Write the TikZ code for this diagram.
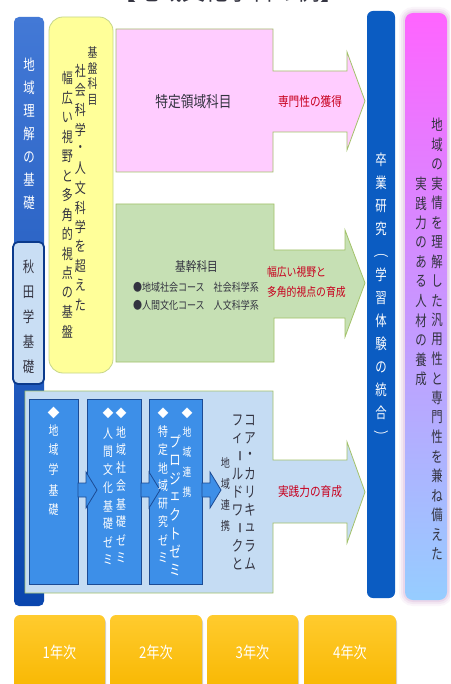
\documentclass[tikz,border=0pt]{standalone}
\usepackage{fontspec}
\usepackage{graphicx}
\setmainfont{Noto Sans CJK JP}
\newfontfamily\cjkc[FakeStretch=0.82]{Noto Sans CJK JP}
\newfontfamily\cjkn[FakeStretch=0.76]{Noto Sans CJK JP}
\makeatletter
\newcommand\VT[2]{\vbox{\offinterlineskip\@tfor\vt@c:=#2\do{\vbox to #1{\vss\hbox to #1{\hss\vt@c\hss}\vss}}}}
\makeatother
\newcommand\VBar{\rotatebox{-90}{ー}}
\newcommand\VLp{\rotatebox{-90}{（}}
\newcommand\VRp{\rotatebox{-90}{）}}
\definecolor{barA}{HTML}{4379D6}
\definecolor{barB}{HTML}{0A46AE}
\definecolor{akita}{HTML}{C9DEF4}
\definecolor{akitaD}{HTML}{0B3A8C}
\definecolor{yel}{HTML}{FFFF99}
\definecolor{yelD}{HTML}{C6D68A}
\definecolor{pinkF}{HTML}{FFCCFF}
\definecolor{greenF}{HTML}{C6E0B4}
\definecolor{ltblue}{HTML}{C5DCF3}
\definecolor{edgeG}{HTML}{A3C26A}
\definecolor{innerB}{HTML}{3D8FE8}
\definecolor{innerD}{HTML}{1C4B94}
\definecolor{rbar}{HTML}{0B5CC2}
\definecolor{redT}{HTML}{C8001E}
\definecolor{yrA}{HTML}{FFCB2E}
\definecolor{yrB}{HTML}{F8B700}
\definecolor{txtD}{HTML}{333340}
\begin{document}
\begin{tikzpicture}[x=1pt,y=-1pt,
  every node/.style={inner sep=0pt, outer sep=0pt},
  region/.style={draw=edgeG, line width=0.8pt},
  innerbox/.style={fill=innerB, draw=innerD, line width=0.9pt},
  smallarrow/.style={fill=innerB, draw=innerD, line width=0.8pt},
  vwhite/.style={text=white},
  redlabel/.style={text=redT, font=\cjkc\fontsize{13}{15}\selectfont},
  yearbox/.style={top color=yrA, bottom color=yrB, draw=none, rounded corners=6pt},
  yeartext/.style={text=white, font=\cjkc\fontsize{16}{18}\selectfont}]
\useasboundingbox (0,0) rectangle (450,684);
\clip (0,0) rectangle (450,684);
\fill[white] (0,0) rectangle (450,684);

% title (cut off at top)
\node[anchor=base, text=txtD, font=\fontsize{23}{23}\selectfont] (title) at (228,1) {【地域文化学科の例】};

% left bar
\shade[top color=barA, bottom color=barB, rounded corners=5pt] (14,17) rectangle (44,606);
\node[vwhite, font=\cjkn\fontsize{15}{15}\selectfont] (chiiki) at (29,134) {\VT{23pt}{地域理解の基礎}};
\draw[fill=akita, draw=akitaD, line width=1.8pt, rounded corners=5pt] (13,242) rectangle (44,384);
\node[text=txtD, font=\cjkn\fontsize{15}{15}\selectfont] (akitatxt) at (28.5,317) {\VT{25pt}{秋田学基礎}};

% yellow box
\draw[fill=yel, draw=yelD, line width=0.8pt, rounded corners=14pt] (49,17) rectangle (113,373);
\node[text=txtD, font=\cjkn\fontsize{13}{13}\selectfont] (kiban) at (92.5,76) {\VT{16pt}{基盤科目}};
\node[text=txtD, font=\cjkn\fontsize{14.5}{14.5}\selectfont] (kibanA) at (80.5,188) {\VT{19.5pt}{社会科学・人文科学を超えた}};
\node[text=txtD, font=\cjkn\fontsize{14.5}{14.5}\selectfont] (kibanB) at (67.5,205) {\VT{19.5pt}{幅広い視野と多角的視点の基盤}};

% pink arrow region
\draw[region, fill=pinkF] (116,29) -- (273,29) -- (273,71) -- (347,71) -- (347,52) -- (365,101) -- (347,150) -- (347,132) -- (273,132) -- (273,172) -- (116,172) -- cycle;
\node[text=txtD, font=\cjkc\fontsize{15.5}{17}\selectfont] (tokutei) at (193.5,102) {特定領域科目};
\node[redlabel] (senmon) at (310,102) {専門性の獲得};

% green arrow region
\draw[region, fill=greenF] (116,204) -- (274,204) -- (274,250) -- (345,250) -- (345,230) -- (365,283) -- (345,337) -- (345,318) -- (274,318) -- (274,362) -- (116,362) -- cycle;
\node[text=txtD, font=\cjkc\fontsize{13}{15}\selectfont] (kikan) at (196.5,267) {基幹科目};
\node[anchor=west, text=txtD, font=\cjkc\fontsize{11}{13}\selectfont] (courseA) at (133,287) {●地域社会コース　社会科学系};
\node[anchor=west, text=txtD, font=\cjkc\fontsize{11}{13}\selectfont] (courseB) at (133,305) {●人間文化コース　人文科学系};
\node[anchor=west, redlabel, font=\cjkc\fontsize{12}{14}\selectfont] (habaA) at (267,272) {幅広い視野と};
\node[anchor=west, redlabel, font=\cjkc\fontsize{12}{14}\selectfont] (habaB) at (267,292) {多角的視点の育成};

% light blue arrow region
\draw[region, fill=ltblue] (25,391) -- (273,391) -- (273,460) -- (347,460) -- (347,442) -- (365,492) -- (347,543) -- (347,523) -- (273,523) -- (273,593) -- (25,593) -- cycle;
\node[redlabel] (jissen) at (310,492) {実践力の育成};

% inner blue boxes
\draw[innerbox] (29,399) rectangle (78,584);
\draw[innerbox] (87,399) rectangle (141,584);
\draw[innerbox] (149,399) rectangle (202,584);

% small arrows between boxes
\foreach \sx/\nm in {78/a1,141/a2,202/a3}{
  \draw[smallarrow] (\sx,483) -- (\sx+8,483) -- (\sx+8,472) -- (\sx+19,490) -- (\sx+8,508) -- (\sx+8,497) -- (\sx,497) -- cycle;
}

% box 1
\node[vwhite, font=\fontsize{12}{12}\selectfont] (d1) at (53.5,413) {◆};
\node[vwhite, font=\cjkn\fontsize{13}{13}\selectfont] (b1) at (53.5,470) {\VT{20pt}{地域学基礎}};
% box 2
\node[vwhite, font=\fontsize{11}{11}\selectfont] (d2a) at (121,413) {◆};
\node[vwhite, font=\fontsize{11}{11}\selectfont] (d2b) at (108,413) {◆};
\node[vwhite, font=\cjkn\fontsize{13}{13}\selectfont] (b2a) at (121,495) {\VT{18pt}{地域社会基礎ゼミ}};
\node[vwhite, font=\cjkn\fontsize{13}{13}\selectfont] (b2b) at (108,497) {\VT{18pt}{人間文化基礎ゼミ}};
% box 3
\node[vwhite, font=\fontsize{11}{11}\selectfont] (d3a) at (187,413) {◆};
\node[vwhite, font=\fontsize{11}{11}\selectfont] (d3b) at (163,413) {◆};
\node[vwhite, font=\cjkn\fontsize{11.5}{11.5}\selectfont] (b3a) at (187,462) {\VT{20pt}{地域連携}};
\node[vwhite, font=\cjkn\fontsize{15}{15}\selectfont] (b3b) at (175,506) {\VT{18.3pt}{プロジェクトゼミ}};
\node[vwhite, font=\cjkn\fontsize{13}{13}\selectfont] (b3c) at (163,495) {\VT{18pt}{特定地域研究ゼミ}};

% core curriculum text
\node[text=txtD, font=\cjkn\fontsize{15}{15}\selectfont] (coreA) at (250,492) {\VT{18pt}{コア・カリキュラム}};
\node[text=txtD, font=\cjkn\fontsize{15}{15}\selectfont] (coreB) at (237.5,492) {\VT{18pt}{フィ\VBar ルドワ\VBar クと}};
\node[text=txtD, font=\cjkn\fontsize{12}{12}\selectfont] (coreC) at (225.5,494.5) {\VT{21pt}{地域連携}};

% right bar
\fill[rbar, rounded corners=6pt] (367,11) rectangle (395,598);
\node[vwhite, font=\cjkn\fontsize{15}{15}\selectfont] (sotsu) at (381,298) {\VT{23pt}{卒業研究\VLp 学習体験の統合\VRp}};

% right pink goal box with glow
\foreach \w/\o in {12/0.08,8/0.12,4/0.18}{
  \draw[draw=violet!45, line width=\w pt, opacity=\o, rounded corners=8pt] (405,13) rectangle (447,600);
}
\shade[top color={rgb,255:red,255;green,100;blue,255}, bottom color={rgb,255:red,150;green,205;blue,255}, middle color={rgb,255:red,200;green,150;blue,255}, rounded corners=8pt] (405,13) rectangle (447,600);
\node[text=txtD, font=\cjkn\fontsize{15}{15}\selectfont] (goalA) at (437,339.5) {\VT{19.5pt}{地域の実情を理解した汎用性と専門性を兼ね備えた}};
\node[text=txtD, font=\cjkn\fontsize{15}{15}\selectfont] (goalB) at (421,281.5) {\VT{19.5pt}{実践力のある人材の養成}};

% year boxes
\foreach \xa/\xb/\t/\nm in {14/105/1年次/y1,110/202/2年次/y2,207/298/3年次/y3,304/396/4年次/y4}{
  \fill[black!18, rounded corners=6pt] (\xa+1,617) rectangle (\xb+1,692);
  \shade[yearbox] (\xa,615) rectangle (\xb,692);
  \node[yeartext] (\nm) at ({(\xa+\xb)/2},652) {\t};
}
\end{tikzpicture}
\end{document}
